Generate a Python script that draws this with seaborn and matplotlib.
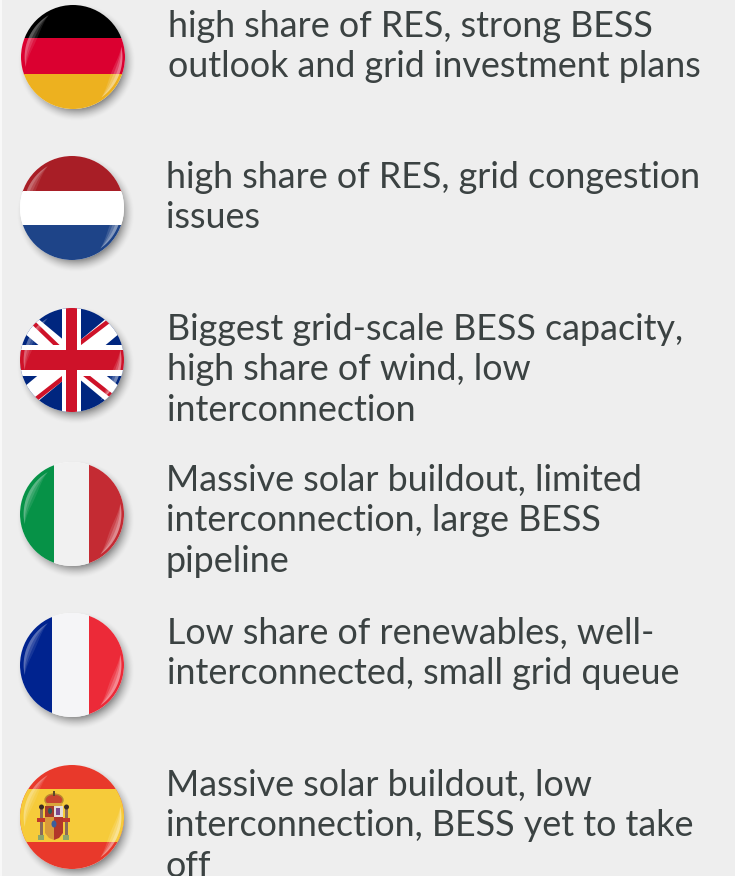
import numpy as np
import matplotlib
matplotlib.use("Agg")
import matplotlib.pyplot as plt
from matplotlib.patches import Circle, Rectangle, Polygon, Ellipse
import seaborn as sns

W, H = 735, 876
BG = "#EEEEEE"
TXT = "#3B4242"

countries = ["Germany", "Netherlands", "United Kingdom", "Italy", "France", "Spain"]
centers_x = [73, 72, 72, 72, 72, 72]
centers_y = [57, 208, 360, 514, 665, 817]
text_x = [168, 166, 167, 166, 167, 166]
first_baseline = [37, 188, 340, 491, 644, 796]
lines = [
    ["high share of RES, strong BESS", "outlook and grid investment plans"],
    ["high share of RES, grid congestion", "issues"],
    ["Biggest grid-scale BESS capacity,", "high share of wind, low", "interconnection"],
    ["Massive solar buildout, limited", "interconnection, large BESS", "pipeline"],
    ["Low share of renewables, well-", "interconnected, small grid queue"],
    ["Massive solar buildout, low", "interconnection, BESS yet to take", "off"],
]
R = 52

sns.set_theme(style="white")
plt.rcParams["font.family"] = ["Lato", "DejaVu Sans"]
fig = plt.figure(figsize=(W / 100, H / 100), dpi=100, facecolor=BG)
ax = fig.add_axes([0, 0, 1, 1])
ax.set_xlim(0, W)
ax.set_ylim(H, 0)
ax.axis("off")
ax.add_patch(Rectangle((0, 0), 2, H, fc="#F8F8F8", ec="none"))


def shadow(cx, cy):
    x0, x1, y0, y1 = cx - R - 14, cx + R + 20, cy - R - 14, cy + R + 20
    xs, ys = np.meshgrid(np.arange(x0, x1, 0.5), np.arange(y0, y1, 0.5))
    d = np.hypot(xs - (cx + 3.5), ys - (cy + 5))
    a = np.clip((R + 7 - d) / 13, 0, 1) ** 1.6 * 0.6
    img = np.zeros(d.shape + (4,))
    img[..., :3] = 0.28
    img[..., 3] = a
    ax.imshow(img, extent=(x0, x1, y1, y0), zorder=1, interpolation="bilinear", aspect="auto")


def clip(p, disc):
    p.set_clip_path(disc)
    return p


def rect(disc, x, y, w, h, c, z=3):
    ax.add_patch(clip(Rectangle((x, y), w, h, fc=c, ec="none", zorder=z), disc))


def poly(disc, pts, c, z=3):
    ax.add_patch(clip(Polygon(pts, closed=True, fc=c, ec="none", zorder=z), disc))


def stroke(disc, p0, p1, hw, c, z=4):
    p0, p1 = np.array(p0, float), np.array(p1, float)
    n = np.array([-(p1 - p0)[1], (p1 - p0)[0]])
    n = n / np.hypot(*n) * hw
    poly(disc, [p0 + n, p1 + n, p1 - n, p0 - n], c, z)


def crescent(disc, cx, cy, a0, a1, r0, r1, alpha):
    t = np.radians(np.linspace(a0, a1, 40))
    taper = np.sin(np.linspace(0, np.pi, 40))
    outer = r1 * np.ones(40)
    inner = r1 - (r1 - r0) * taper
    pts = np.r_[np.c_[cx + outer * np.cos(t), cy + outer * np.sin(t)],
                np.c_[cx + inner * np.cos(t), cy + inner * np.sin(t)][::-1]]
    ax.add_patch(clip(Polygon(pts, closed=True, fc="white", ec="none", alpha=alpha, zorder=6), disc))


def gloss(disc, cx, cy):
    for w, a in [(8, 0.09), (5.5, 0.13), (3, 0.17)]:
        crescent(disc, cx, cy, 168, 240, R * 0.93 - w, R * 0.93, a)
        crescent(disc, cx, cy, -12, 55, R * 0.95 - w, R * 0.95, a * 1.4)


def germany(d, cx, cy):
    rect(d, cx - R, cy - R, 2 * R, R - 19.5, "#000000")
    rect(d, cx - R, 37.5, 2 * R, 37, "#DB0030")
    rect(d, cx - R, 74, 2 * R, 40, "#EDB11F")


def netherlands(d, cx, cy):
    rect(d, cx - R, cy - R, 2 * R, 36, "#A81E26")
    rect(d, cx - R, 190.7, 2 * R, 34, "#FFFFFF")
    rect(d, cx - R, 224.7, 2 * R, 40, "#1E4488")


def uk(d, cx, cy):
    rect(d, cx - R, cy - R, 2 * R, 2 * R, "#00267F")
    stroke(d, (cx - 66, cy - 55), (cx + 66, cy + 55), 10, "#FFFFFF")
    stroke(d, (cx - 66, cy + 55), (cx + 66, cy - 55), 10, "#FFFFFF")
    red = "#CE1229"
    stroke(d, (cx - 52, cy - 50), (cx, cy), 2.2, red, 4.5)
    stroke(d, (cx + 50, cy - 49), (cx - 5, cy - 7), 2.2, red, 4.5)
    stroke(d, (cx - 50, cy + 50), (cx + 5, cy + 7), 2.2, red, 4.5)
    stroke(d, (cx + 50, cy + 44), (cx + 2, cy + 6), 2.2, red, 4.5)
    rect(d, cx - 9.5, cy - R, 19, 2 * R, "#FFFFFF", 5)
    rect(d, cx - R, cy - 15, 2 * R, 31, "#FFFFFF", 5)
    rect(d, cx - 5.5, cy - R, 11, 2 * R, red, 5.5)
    rect(d, cx - R, cy - 10, 2 * R, 20, red, 5.5)


def italy(d, cx, cy):
    rect(d, cx - R, cy - R, 54.3 - cx + R, 2 * R, "#069247")
    rect(d, 54.3, cy - R, 35, 2 * R, "#F1F1F1")
    rect(d, 89.3, cy - R, 40, 2 * R, "#C42B33")


def france(d, cx, cy):
    rect(d, cx - R, cy - R, 52 - cx + R, 2 * R, "#00238F")
    rect(d, 52, cy - R, 37, 2 * R, "#F5F5F7")
    rect(d, 89, cy - R, 40, 2 * R, "#EC2A38")


def spain(d, cx, cy):
    rect(d, cx - R, cy - R, 2 * R, 2 * R, "#E8392B")
    rect(d, cx - R, 789, 2 * R, 53, "#F6CB3A")
    # coat of arms
    for px in (41.5, 66.5):
        rect(d, px - 1.5, 808, 3, 28, "#8A6A5A", 4)
        ax.add_patch(clip(Circle((px, 807), 2.5, fc="#3A2B25", ec="none", zorder=4), d))
        rect(d, px - 3, 835, 6, 5, "#8FA66A", 4)
        rect(d, px - 4, 818, 8, 4, "#C0392B", 4)
    ax.add_patch(clip(Ellipse((54, 800), 18, 12, fc="#C8452F", ec="#B98A2E", lw=1, zorder=4), d))
    rect(d, 46, 803, 16, 3, "#D9A53A", 4)
    rect(d, 53.3, 791, 1.4, 5, "#5B4A2A", 5)
    rect(d, 45, 806, 9, 11, "#A33A2C", 4)
    rect(d, 54, 806, 9, 11, "#E4DBD5", 4)
    rect(d, 45, 817, 9, 12, "#D99A3A", 4)
    rect(d, 54, 817, 9, 12, "#B2372A", 4)
    poly(d, [(45, 829), (54, 829), (54, 840), (49, 838), (45, 833)], "#D99A3A", 4)
    poly(d, [(54, 829), (63, 829), (63, 833), (59, 838), (54, 840)], "#B2372A", 4)
    ax.add_patch(clip(Ellipse((50, 811), 4, 6, fc="#2F5A54", ec="none", zorder=5), d))
    rect(d, 56, 808, 4, 7, "#7A4A8C", 5)
    ax.add_patch(clip(Ellipse((54, 824), 5, 7, fc="#3A5E9C", ec="none", zorder=5), d))


painters = [germany, netherlands, uk, italy, france, spain]

for i, name in enumerate(countries):
    cx, cy = centers_x[i], centers_y[i]
    shadow(cx, cy)
    disc = Circle((cx, cy), R, fc="white", ec="none", zorder=2, transform=ax.transData)
    ax.add_patch(disc)
    painters[i](disc, cx, cy)
    gloss(disc, cx, cy)
    for j, s in enumerate(lines[i]):
        ax.text(text_x[i], first_baseline[i] + 40.3 * j, s, fontsize=25.8, color=TXT,
                ha="left", va="baseline", zorder=10)

ax.set_xlim(0, W)
ax.set_ylim(H, 0)
fig.savefig("out.png", dpi=100, facecolor=BG)
